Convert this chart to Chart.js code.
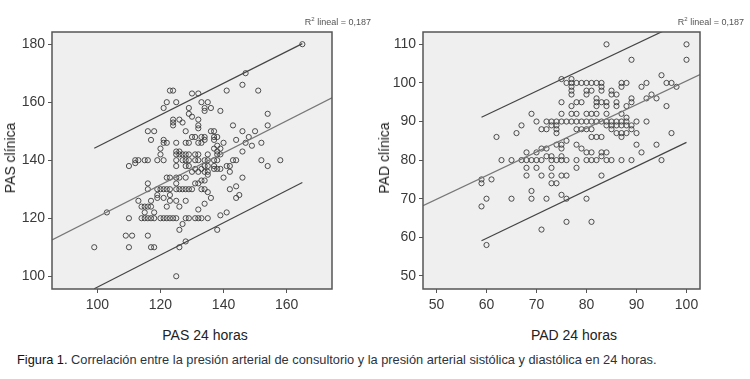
<!DOCTYPE html>
<html>
<head>
<meta charset="utf-8">
<script src="https://cdn.jsdelivr.net/npm/chart.js@4.4.0/dist/chart.umd.min.js"></script>
<style>
  body { margin: 0; background: #fff; }
  #wrap { position: relative; width: 750px; height: 379px; overflow: hidden; font-family: "Liberation Sans", Arial, sans-serif; }
  canvas { position: absolute; top: 0; }
  .lbl { position: absolute; white-space: nowrap; color: #222; }
  .ytitle { transform: translate(-50%, -50%) rotate(-90deg); font-size: 14px; }
  .xtitle { transform: translate(-50%, -50%); font-size: 14px; }
  .r2 { font-size: 9px; color: #555; transform: translate(-100%, -50%); }
  .caption { font-size: 12.8px; color: #2b3440; left: 17px; top: 352px; }
  .caption b { color: #111; font-weight: normal; }
</style>
</head>
<body>
<div id="wrap">
  <canvas id="pas" width="375" height="320" style="left:0"></canvas>
  <canvas id="pad" width="375" height="320" style="left:375px"></canvas>
  <div class="lbl r2" style="left:371px; top:21px">R<sup style="font-size:6px">2</sup> lineal = 0,187</div>
  <div class="lbl r2" style="left:744px; top:21px">R<sup style="font-size:6px">2</sup> lineal = 0,187</div>
  <div class="lbl ytitle" style="left:10px; top:158px">PAS clínica</div>
  <div class="lbl ytitle" style="left:384px; top:158px">PAD clínica</div>
  <div class="lbl xtitle" style="left:205px; top:335px">PAS 24 horas</div>
  <div class="lbl xtitle" style="left:574px; top:335px">PAD 24 horas</div>
  <div class="lbl caption"><b>Figura 1.</b> Correlación entre la presión arterial de consultorio y la presión arterial sistólica y diastólica en 24 horas.</div>
</div>
<script>
// PAS: 24h (x) vs clinic (y)
const pasX = [
  165, 147, 146, 123, 124, 141, 151, 130, 132,
  122, 125, 133, 135, 121, 129, 134, 136, 139, 134, 129, 154, 130,
  124, 126, 132, 124, 127, 124, 132, 143, 154, 132,
  116, 118, 128, 136, 137, 146, 150,
  130, 131, 133, 134, 137, 138, 148,
  117, 121, 134, 137, 144,
  121, 122, 125, 128, 129, 132, 133, 140, 147, 152,
  138, 149, 120, 137, 139, 125, 126, 138, 146,
  120, 125, 126, 127, 128, 129, 131, 132, 135, 138, 139,
  112, 113, 115, 116, 119, 121, 125, 127, 128, 129, 131, 132, 134, 135, 137, 138, 143, 144, 152, 158,
  112, 110, 125, 128, 129, 134, 135, 137, 141, 142, 154,
  131, 133, 137, 138, 139, 130, 132, 134, 135, 142, 135,
  122, 123, 125, 126, 128, 140, 146, 133, 134,
  116, 125, 131, 132, 144,
  116, 119, 120, 121, 122, 123, 125, 126, 127, 128, 129, 130, 133, 134, 142,
  135, 119, 123, 145, 119, 121, 136, 144,
  113, 117, 123, 125, 128, 134,
  114, 115, 116, 117, 122, 126, 132,
  103, 115, 118, 141, 139,
  110, 114, 115, 116, 117, 118, 120, 121, 122, 123, 124, 125, 128, 129, 131, 132, 133, 135,
  127, 126, 138, 109, 111, 116, 128,
  99, 110, 117, 118, 126, 125
];
const pasY = [
  180, 170, 166, 164, 164, 164, 164, 163, 163,
  160, 160, 160, 160, 158, 158, 158, 158, 157, 157, 156, 156, 155,
  154, 154, 154, 153, 153, 152, 152, 152, 152, 151,
  150, 150, 150, 150, 150, 150, 150,
  148, 148, 148, 148, 148, 148, 148,
  147, 147, 147, 147, 147,
  146, 146, 146, 146, 146, 146, 146, 146, 146, 146,
  145, 145, 144, 144, 144, 143, 143, 143, 143,
  142, 142, 142, 142, 142, 142, 142, 142, 142, 142, 142,
  140, 140, 140, 140, 140, 140, 140, 140, 140, 140, 140, 140, 140, 140, 140, 140, 140, 140, 140, 140,
  139, 138, 138, 138, 138, 138, 138, 138, 138, 138, 138,
  137, 137, 137, 137, 137, 136, 136, 136, 136, 136, 135,
  134, 134, 134, 134, 134, 134, 134, 133, 133,
  132, 132, 132, 132, 131,
  130, 130, 130, 130, 130, 130, 130, 130, 130, 130, 130, 130, 130, 130, 130,
  129, 128, 128, 128, 127, 127, 127, 127,
  126, 126, 126, 126, 126, 125,
  124, 124, 124, 124, 124, 124, 123,
  122, 122, 122, 122, 121,
  120, 120, 120, 120, 120, 120, 120, 120, 120, 120, 120, 120, 120, 120, 120, 120, 120, 120,
  118, 116, 116, 114, 114, 114, 112,
  110, 110, 110, 110, 110, 100
];
// fit line and interval lines, end points
const pasFitX = [85.6, 174.4];
const pasFitY = [112.5, 161.5];
const pasBandX = [99, 165];
const pasUpperY = [144.1, 180.2];
const pasLowerY = [95.7, 132.3];
const pasXTicks = [100, 120, 140, 160];
const pasYTicks = [100, 120, 140, 160, 180];

// PAD: 24h (x) vs clinic (y)
const padX = [
  84, 100, 89, 100, 95, 75, 77,
  76, 77, 78, 79, 80, 81, 82, 83, 87, 88, 92, 96, 97,
  77, 83, 87, 91, 98,
  77, 80, 81, 83, 85,
  77, 80, 85, 86, 93,
  82, 89, 92, 94,
  75, 78, 79, 82, 83, 84, 86, 89,
  77, 82, 84, 86, 88, 96,
  69, 75, 77, 78, 80, 81, 82, 84, 87, 88,
  70, 72, 73, 74, 75, 76, 77, 78, 79, 80, 81, 82, 83, 84, 85, 86, 87, 88, 90, 92,
  67, 73, 74, 84, 85, 86, 87, 88, 89,
  71, 72, 74, 78, 79, 80, 81, 85, 89,
  66, 74, 86, 87, 88, 90, 97,
  62, 81, 82, 83, 87, 76,
  74, 75, 78, 90, 94,
  71, 72, 75, 79,
  68, 70, 80, 81, 83, 84, 91,
  72, 73, 75, 83,
  63, 65, 67, 68, 69, 70, 71, 73, 74, 75, 76, 78, 80, 81, 82, 84, 85, 87, 89, 95,
  68, 70, 73, 78,
  68, 71, 73, 75, 76, 83,
  59, 61, 59, 73, 74, 69, 75,
  60, 65, 69, 72, 76, 80,
  59, 76, 81, 71, 60
];
const padY = [
  110, 110, 106, 106, 102, 101, 101,
  100, 100, 100, 100, 100, 100, 100, 100, 100, 100, 100, 100, 100,
  99, 99, 99, 99, 99,
  98, 98, 98, 98, 98,
  97, 97, 97, 97, 97,
  96, 96, 96, 96,
  95, 95, 95, 95, 95, 95, 95, 95,
  94, 94, 94, 94, 94, 94,
  92, 92, 92, 92, 92, 92, 92, 92, 92, 91,
  90, 90, 90, 90, 90, 90, 90, 90, 90, 90, 90, 90, 90, 90, 90, 90, 90, 90, 90, 90,
  89, 89, 89, 89, 89, 89, 89, 89, 89,
  88, 88, 88, 88, 88, 88, 88, 88, 88,
  87, 87, 87, 87, 87, 87, 87,
  86, 86, 86, 86, 86, 85,
  84, 84, 84, 84, 84,
  83, 83, 83, 83,
  82, 82, 82, 82, 82, 82, 82,
  81, 81, 81, 81,
  80, 80, 80, 80, 80, 80, 80, 80, 80, 80, 80, 80, 80, 80, 80, 80, 80, 80, 80, 80,
  78, 78, 78, 78,
  76, 76, 76, 76, 76, 76,
  75, 75, 74, 74, 74, 72, 71,
  70, 70, 70, 70, 70, 70,
  68, 64, 64, 62, 58
];
const padFitX = [47.3, 102.7];
const padFitY = [68.2, 102.15];
const padBandX = [59, 100];
const padUpperY = [91.1, 116.3];
const padLowerY = [59.1, 84.6];
const padXTicks = [50, 60, 70, 80, 90, 100];
const padYTicks = [50, 60, 70, 80, 90, 100, 110];

const pts = (xs, ys) => xs.map((x, i) => ({ x: x, y: ys[i] }));

// grey panel + box frame round the plot area
const panelPlugin = {
  id: 'panel',
  beforeDatasetsDraw(chart) {
    const { ctx, chartArea: a } = chart;
    ctx.save();
    ctx.fillStyle = '#efefef';
    ctx.fillRect(a.left, a.top, a.right - a.left, a.bottom - a.top);
    ctx.restore();
  },
  afterDraw(chart) {
    const { ctx, chartArea: a } = chart;
    ctx.save();
    ctx.strokeStyle = '#555';
    ctx.lineWidth = 1.5;
    ctx.strokeRect(a.left, a.top, a.right - a.left, a.bottom - a.top);
    ctx.restore();
  }
};

function makeChart(id, cfg) {
  const lineDs = (xs, ys, color) => ({
    data: pts(xs, ys),
    showLine: true,
    pointRadius: 0,
    borderColor: color,
    borderWidth: 1.2,
    fill: false
  });
  return new Chart(document.getElementById(id), {
    type: 'scatter',
    data: {
      datasets: [
        lineDs(cfg.fitX, cfg.fitY, '#777'),
        lineDs(cfg.bandX, cfg.upperY, '#444'),
        lineDs(cfg.bandX, cfg.lowerY, '#444'),
        {
          data: pts(cfg.xs, cfg.ys),
          pointRadius: 2.6,
          pointBorderWidth: 1,
          borderColor: 'rgba(60,60,60,0.9)',
          backgroundColor: 'rgba(0,0,0,0)'
        }
      ]
    },
    plugins: [panelPlugin],
    options: {
      responsive: false,
      animation: false,
      layout: { padding: { left: 0, top: 32, right: cfg.padRight, bottom: 0 } },
      plugins: { legend: { display: false }, tooltip: { enabled: false } },
      scales: {
        x: {
          type: 'linear',
          min: cfg.xMin,
          max: cfg.xMax,
          afterBuildTicks: s => { s.ticks = cfg.xTicks.map(v => ({ value: v })); },
          afterFit: s => { s.height = 31; },
          grid: { drawOnChartArea: false, drawTicks: true, tickLength: 4, color: '#555' },
          border: { display: false },
          ticks: { padding: 4, color: '#3a3a3a', font: { family: 'Liberation Sans', size: 14 } }
        },
        y: {
          type: 'linear',
          min: cfg.yMin,
          max: cfg.yMax,
          afterBuildTicks: s => { s.ticks = cfg.yTicks.map(v => ({ value: v })); },
          afterFit: s => { s.width = cfg.yWidth; },
          grid: { drawOnChartArea: false, drawTicks: true, tickLength: 4, color: '#555' },
          border: { display: false },
          ticks: { padding: 3, color: '#3a3a3a', font: { family: 'Liberation Sans', size: 14 } }
        }
      }
    }
  });
}

makeChart('pas', {
  xs: pasX, ys: pasY,
  fitX: pasFitX, fitY: pasFitY, bandX: pasBandX, upperY: pasUpperY, lowerY: pasLowerY,
  xTicks: pasXTicks, yTicks: pasYTicks,
  xMin: 85.6, xMax: 174.4, yMin: 95.6, yMax: 184.2,
  yWidth: 52, padRight: 43
});

makeChart('pad', {
  xs: padX, ys: padY,
  fitX: padFitX, fitY: padFitY, bandX: padBandX, upperY: padUpperY, lowerY: padLowerY,
  xTicks: padXTicks, yTicks: padYTicks,
  xMin: 47.3, xMax: 102.7, yMin: 46.6, yMax: 113.2,
  yWidth: 48, padRight: 50
});
</script>
</body>
</html>
